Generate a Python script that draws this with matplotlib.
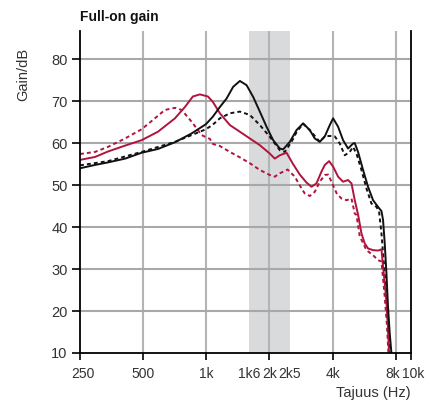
import matplotlib
matplotlib.use("Agg")
import matplotlib.pyplot as plt
from matplotlib.ticker import FixedLocator, FixedFormatter
from matplotlib.transforms import ScaledTranslation

plt.rcParams['font.family'] = ['Liberation Sans', 'DejaVu Sans']

# ---- data (frequency in Hz, gain in dB) ----
bs_f = [250, 295, 340, 410, 492, 588, 709, 851, 996, 1075, 1161, 1249, 1343, 1446, 1556,
        1673, 1800, 1937, 2083, 2242, 2325, 2502, 2693, 2894, 3114, 3290, 3475, 3673, 3880,
        4023, 4249, 4488, 4741, 5008, 5103, 5290, 5590, 5903, 6238, 6589, 6840, 6960, 7090,
        7224, 7350, 7490, 7630, 7700]
bs_g = [54.0, 54.8, 55.4, 56.3, 57.7, 58.6, 60.2, 62.3, 64.5, 66.3, 68.6, 70.6, 73.4, 74.8, 73.8,
        71.0, 67.5, 63.9, 60.7, 58.7, 58.5, 60.3, 63.1, 64.7, 63.1, 61.1, 60.3, 61.6, 64.3,
        65.9, 63.9, 60.7, 58.7, 59.9, 60.0, 57.9, 53.6, 49.6, 46.4, 44.8, 43.8, 41.7, 36.1,
        29.0, 21.0, 14.7, 10.0, 5.0]

bd_f = [250, 340, 492, 709, 851, 996, 1075, 1161, 1295, 1446, 1613, 1800, 2008, 2242, 2368,
        2549, 2693, 2894, 3114, 3475, 3673, 3880, 4098, 4328, 4573, 4830, 5008, 5199, 5491,
        5801, 6127, 6475, 6662, 6840, 7090, 7270, 7490, 7560]
bd_g = [54.7, 55.7, 57.9, 60.3, 61.9, 63.3, 64.4, 65.9, 67.1, 67.5, 66.7, 64.3, 61.5, 58.3, 57.9,
        60.3, 62.6, 64.6, 63.1, 60.3, 61.6, 61.7, 61.6, 59.9, 57.1, 57.9, 59.1, 57.5, 53.6,
        49.2, 45.6, 44.8, 43.7, 38.5, 29.0, 21.0, 10.0, 5.0]

rs_f = [250, 295, 340, 410, 492, 588, 709, 791, 863, 932, 1018, 1075, 1161, 1295, 1446, 1613,
        1800, 2008, 2121, 2242, 2413, 2585, 2791, 3004, 3173, 3352, 3540, 3673, 3851, 4023,
        4249, 4488, 4741, 4922, 5103, 5290, 5491, 5693, 5903, 6238, 6589, 6840, 6960, 7224,
        7350, 7433, 7480]
rs_g = [56.0, 56.7, 58.0, 59.4, 60.7, 62.7, 65.9, 68.6, 71.1, 71.6, 71.1, 69.8, 67.1, 64.3, 62.7, 61.1,
        59.5, 57.5, 56.3, 57.1, 57.7, 55.1, 52.5, 50.6, 49.6, 50.4, 53.2, 54.8, 55.7, 54.4,
        52.0, 50.8, 51.2, 50.4, 46.4, 43.0, 38.5, 36.1, 34.9, 34.5, 34.4, 34.7, 30.6, 22.6,
        16.3, 10.0, 5.0]

rd_f = [250, 295, 340, 410, 492, 569, 635, 709, 763, 851, 950, 1040, 1075, 1161, 1295, 1446,
        1613, 1800, 2008, 2121, 2242, 2440, 2643, 2844, 2948, 3114, 3290, 3475, 3673, 3812,
        3952, 4185, 4410, 4659, 4922, 5103, 5199, 5389, 5801, 6238, 6589, 6840, 7090, 7270,
        7382, 7420]
rd_g = [57.4, 57.9, 59.1, 61.1, 63.3, 65.9, 67.9, 68.4, 67.9, 65.1, 61.9, 61.0, 59.8, 59.3, 57.9, 56.6,
        55.2, 53.6, 52.4, 52.0, 52.8, 53.7, 52.0, 49.2, 48.0, 47.4, 48.4, 50.8, 52.4, 52.5,
        50.8, 48.0, 46.8, 46.4, 46.8, 43.2, 42.9, 37.8, 34.5, 33.3, 32.1, 31.8, 23.4, 16.3,
        10.0, 5.0]

band = (1600, 2500)
x_major = [250, 500, 1000, 2000, 4000, 8000, 9460]
x_major_labels = ["250", "500", "1k", "2k", "4k", "8k", "10k"]
x_minor = [1600, 2500]
x_minor_labels = ["1k6", "2k5"]
x_grid = [500, 1000, 2000, 4000, 8000]
y_ticks = [10, 20, 30, 40, 50, 60, 70, 80]
y_grid = [20, 30, 40, 50, 60, 70, 80]

RED = "#b0143d"
BLK = "#111111"
TXT = "#333333"

fig = plt.figure(figsize=(4.33, 4.04), dpi=100)
ax = fig.add_axes([80 / 433, 1 - 353 / 404, 331 / 433, 322 / 404])
ax.set_xscale("log")
ax.set_xlim(250, 9460)
ax.set_ylim(10, 86.7)

ax.axvspan(band[0], band[1], color="#d9dadb", lw=0, zorder=0)
for g in x_grid:
    ax.axvline(g, color="#b4b4b4", lw=1.5, zorder=1)
for g in y_grid:
    ax.axhline(g, color="#a8a8a8", lw=1.5, zorder=1)

ax.plot(rd_f, rd_g, color=RED, lw=1.4, dashes=(2.0, 1.6), zorder=3)
ax.plot(bd_f, bd_g, color=BLK, lw=1.4, dashes=(2.0, 1.6), zorder=3)
ax.plot(rs_f, rs_g, color=RED, lw=1.4, zorder=4)
ax.plot(bs_f, bs_g, color=BLK, lw=1.4, zorder=5)

ax.spines["top"].set_visible(False)
for s in ["left", "bottom", "right"]:
    ax.spines[s].set_color("black")
    ax.spines[s].set_linewidth(1.3)
    ax.spines[s].set_zorder(6)

ax.xaxis.set_major_locator(FixedLocator(x_major))
ax.xaxis.set_major_formatter(FixedFormatter(x_major_labels))
ax.xaxis.set_minor_locator(FixedLocator(x_minor))
ax.xaxis.set_minor_formatter(FixedFormatter(x_minor_labels))
ax.set_yticks(y_ticks)
ax.set_yticklabels([str(v) for v in y_ticks])

ax.tick_params(axis="x", which="major", direction="out", length=5, width=1.2,
               labelsize=10, labelcolor=TXT, pad=5)
ax.tick_params(axis="x", which="minor", length=0, labelsize=10, labelcolor=TXT, pad=10)
ax.tick_params(axis="y", direction="out", length=6, width=1.2, labelsize=10.5,
               labelcolor=TXT, pad=3)
ax.tick_params(right=False)

# nudge the crowded 8k / 10k labels apart a little
ticks = ax.xaxis.get_major_ticks()
nudges = {5: -2.5, 6: 2.5, 0: 3.0}
for i, dx in nudges.items():
    lab = ticks[i].label1
    lab.set_transform(lab.get_transform() + ScaledTranslation(dx / 100, 0, fig.dpi_scale_trans))

fig.text(80 / 433, 1 - 17 / 404, "Full-on gain", fontsize=10, fontweight="bold",
         color="#111111", va="center", ha="left")
fig.text(23 / 433, 1 - 74 / 404, "Gain/dB", fontsize=10.5, rotation=90, color=TXT,
         va="center", ha="center")
fig.text(411 / 433, 1 - 393 / 404, "Tajuus (Hz)", fontsize=10.5, color=TXT,
         va="center", ha="right")

fig.savefig("out.png", dpi=100)
